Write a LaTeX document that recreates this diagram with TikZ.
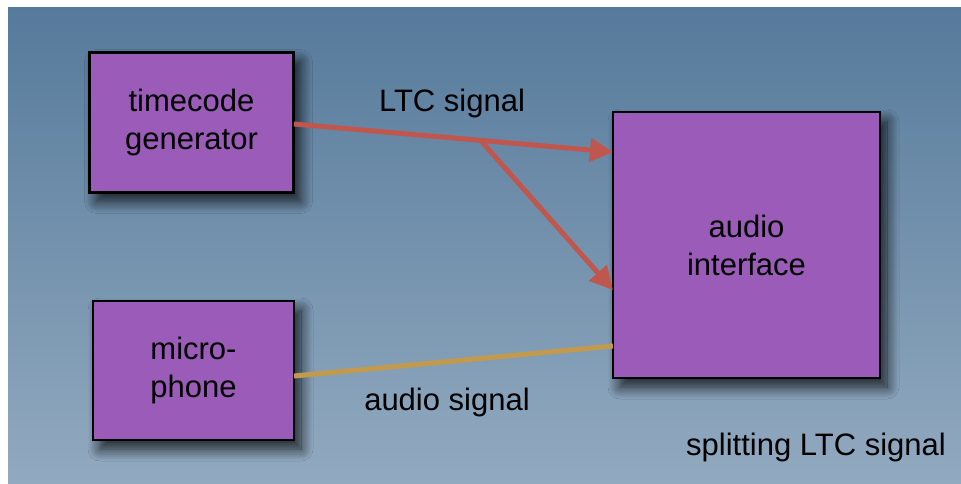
\documentclass[tikz,border=0pt]{standalone}
\usepackage{fontspec}
\setmainfont{Liberation Sans}
\usetikzlibrary{arrows.meta,shadows.blur}
\definecolor{bgtop}{RGB}{86,122,155}
\definecolor{bgbot}{RGB}{146,170,192}
\definecolor{boxfill}{RGB}{155,91,184}
\definecolor{ltcred}{RGB}{192,87,79}
\definecolor{audioyel}{RGB}{194,154,77}
\tikzset{
  unit/.style={draw=black,line width=2.5pt,fill=boxfill,align=center,
    font=\fontsize{31}{38}\selectfont,
    blur shadow={shadow xshift=7pt,shadow yshift=-9pt,shadow opacity=80,shadow blur steps=14,shadow blur radius=12pt}},
  ltc/.style={draw=ltcred,line width=5pt,-{Triangle[length=23pt,width=23pt]}},
  audio/.style={draw=audioyel,line width=5pt},
  caption/.style={font=\fontsize{31}{38}\selectfont,inner sep=0pt}
}
\begin{document}
\begin{tikzpicture}[x=1pt,y=-1pt]
  \useasboundingbox (0,0) rectangle (961,484);
  \fill[white] (0,0) rectangle (961,484);
  \shade[top color=bgtop,bottom color=bgbot] (8,8) rectangle (961,484);

  \node (tc) at (191.5,122.5) [unit,minimum width=204pt,minimum height=140pt] {timecode\\generator};
  \node (mic) at (193.5,370.5) [unit,minimum width=201pt,minimum height=139pt] {micro-\\phone};
  \node (ai) at (746.5,245) [unit,minimum width=267pt,minimum height=266pt] {audio\\interface};

  \coordinate (ltcout) at (294,124);
  \coordinate (split) at (482,142);
  \coordinate (ltcin1) at (613,152);
  \coordinate (ltcin2) at (613,290);
  \coordinate (micout) at (294,376);
  \coordinate (audin) at (613,346);

  \draw [ltc] (ltcout) -- (ltcin1);
  \draw [ltc] (split) -- (ltcin2);
  \draw [audio] (micout) -- (audin);

  \node (ltclabel) at (452,103) [caption] {LTC signal};
  \node (audlabel) at (447,402) [caption] {audio signal};
  \node (title) at (946,447) [caption,anchor=east] {splitting LTC signal};
\end{tikzpicture}
\end{document}
